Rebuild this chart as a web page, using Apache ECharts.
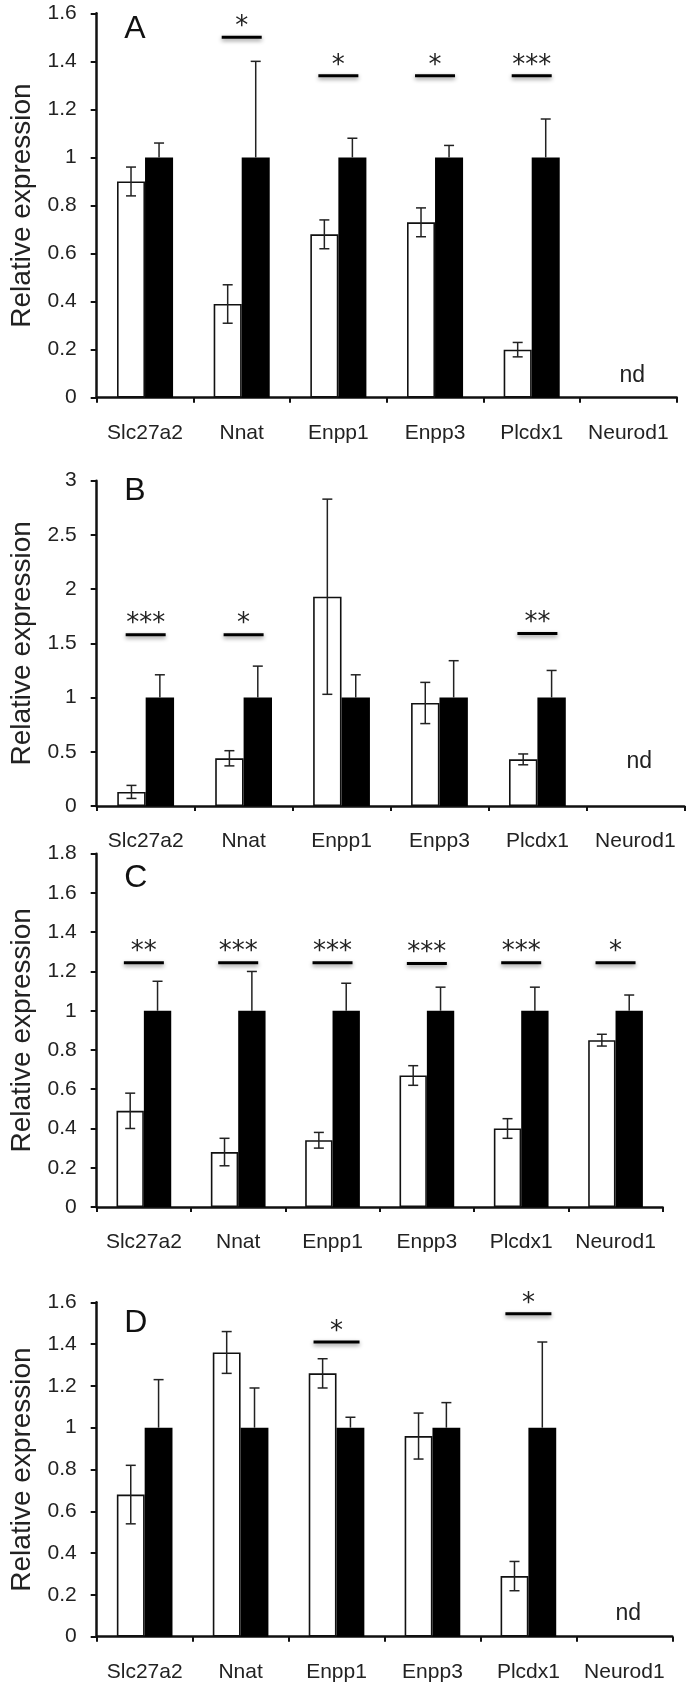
<!DOCTYPE html>
<html><head><meta charset="utf-8">
<script src="https://cdn.jsdelivr.net/npm/echarts@6/dist/echarts.min.js"></script>
<style>html,body{margin:0;padding:0;background:#fff;}#c{width:695px;height:1691px;}</style>
</head><body><div id="c"></div>
<script>
const categories = ['Slc27a2', 'Nnat', 'Enpp1', 'Enpp3', 'Plcdx1', 'Neurod1'];

// Panel A
const aTicks = [0, 0.2, 0.4, 0.6, 0.8, 1, 1.2, 1.4, 1.6];
const aWhite = [0.90, 0.39, 0.68, 0.73, 0.20, null];
const aWhiteErr = [0.06, 0.08, 0.06, 0.06, 0.03, null];
const aBlack = [1, 1, 1, 1, 1, null];
const aBlackErr = [0.06, 0.40, 0.08, 0.05, 0.16, null];
const aSig = [null, '*', '*', '*', '***', null];
const aSigLevel = [null, 1.50, 1.34, 1.34, 1.34, null];
const aNd = [null, null, null, null, null, 'nd'];
const aNdLevel = [null, null, null, null, null, 0.09];

// Panel B
const bTicks = [0, 0.5, 1, 1.5, 2, 2.5, 3];
const bWhite = [0.13, 0.44, 1.93, 0.95, 0.43, null];
const bWhiteErr = [0.06, 0.07, 0.90, 0.19, 0.05, null];
const bBlack = [1, 1, 1, 1, 1, null];
const bBlackErr = [0.21, 0.29, 0.21, 0.34, 0.25, null];
const bSig = ['***', '*', null, null, '**', null];
const bSigLevel = [1.58, 1.58, null, null, 1.59, null];
const bNd = [null, null, null, null, null, 'nd'];
const bNdLevel = [null, null, null, null, null, 0.41];

// Panel C
const cTicks = [0, 0.2, 0.4, 0.6, 0.8, 1, 1.2, 1.4, 1.6, 1.8];
const cWhite = [0.49, 0.28, 0.34, 0.67, 0.40, 0.85];
const cWhiteErr = [0.09, 0.07, 0.04, 0.05, 0.05, 0.03];
const cBlack = [1, 1, 1, 1, 1, 1];
const cBlackErr = [0.15, 0.20, 0.14, 0.12, 0.12, 0.08];
const cSig = ['**', '***', '***', '***', '***', '*'];
const cSigLevel = [1.245, 1.245, 1.245, 1.24, 1.245, 1.245];
const cNd = [null, null, null, null, null, null];
const cNdLevel = [null, null, null, null, null, null];

// Panel D
const dTicks = [0, 0.2, 0.4, 0.6, 0.8, 1, 1.2, 1.4, 1.6];
const dWhite = [0.68, 1.36, 1.26, 0.96, 0.29, null];
const dWhiteErr = [0.14, 0.10, 0.07, 0.11, 0.07, null];
const dBlack = [1, 1, 1, 1, 1, null];
const dBlackErr = [0.23, 0.19, 0.05, 0.12, 0.41, null];
const dSig = [null, null, '*', null, '*', null];
const dSigLevel = [null, null, 1.41, null, 1.545, null];
const dNd = [null, null, null, null, null, 'nd'];
const dNdLevel = [null, null, null, null, null, 0.11];

const FONT = '"Liberation Sans", Arial, Helvetica, sans-serif';
const BAR_FRAC = 0.29;

const panels = [
  {letter: 'A', ticks: aTicks, white: aWhite, whiteErr: aWhiteErr, black: aBlack, blackErr: aBlackErr,
   sig: aSig, sigLevel: aSigLevel, nd: aNd, ndLevel: aNdLevel,
   box: {left: 96.7, top: 13.3, width: 580, height: 384.4}, titleTop: 13.5, sigLen: 40},
  {letter: 'B', ticks: bTicks, white: bWhite, whiteErr: bWhiteErr, black: bBlack, blackErr: bBlackErr,
   sig: bSig, sigLevel: bSigLevel, nd: bNd, ndLevel: bNdLevel,
   box: {left: 96.7, top: 480.7, width: 587.6, height: 325.3}, titleTop: 475, sigLen: 40},
  {letter: 'C', ticks: cTicks, white: cWhite, whiteErr: cWhiteErr, black: cBlack, blackErr: cBlackErr,
   sig: cSig, sigLevel: cSigLevel, nd: cNd, ndLevel: cNdLevel,
   box: {left: 96.7, top: 853.7, width: 566, height: 353.3}, titleTop: 862, sigLen: 40},
  {letter: 'D', ticks: dTicks, white: dWhite, whiteErr: dWhiteErr, black: dBlack, blackErr: dBlackErr,
   sig: dSig, sigLevel: dSigLevel, nd: dNd, ndLevel: dNdLevel,
   box: {left: 96.7, top: 1302.3, width: 575.6, height: 334.4}, titleTop: 1307, sigLen: 46}
];

const grid = [], xAxis = [], yAxis = [], series = [], title = [];

panels.forEach(function (p, k) {
  grid.push({left: p.box.left, top: p.box.top, width: p.box.width, height: p.box.height, containLabel: false});
  title.push({text: p.letter, left: p.box.left + 27.5, top: p.titleTop, padding: 0,
    textStyle: {fontSize: 32, fontWeight: 'normal', color: '#111', fontFamily: FONT}});
  xAxis.push({
    gridIndex: k, type: 'category', data: categories,
    axisLine: {show: true, lineStyle: {color: '#111', width: 2.5}},
    axisTick: {show: true, length: 5, lineStyle: {color: '#111', width: 2}},
    axisLabel: {interval: 0, fontSize: 21, color: '#222', margin: 25, fontFamily: FONT},
    splitLine: {show: false}
  });
  yAxis.push({
    gridIndex: k, type: 'value',
    min: p.ticks[0], max: p.ticks[p.ticks.length - 1], interval: p.ticks[1] - p.ticks[0],
    axisLine: {show: true, lineStyle: {color: '#111', width: 2.5}},
    axisTick: {show: true, length: 6, lineStyle: {color: '#111', width: 2}},
    axisLabel: {fontSize: 21, color: '#222', margin: 20, fontFamily: FONT},
    splitLine: {show: false},
    name: 'Relative expression', nameLocation: 'middle', nameGap: 50,
    nameTextStyle: {fontSize: 28, color: '#222', fontFamily: FONT}
  });
  series.push({
    type: 'bar', xAxisIndex: k, yAxisIndex: k, data: p.white,
    barWidth: (BAR_FRAC * 100) + '%', barGap: '0%',
    itemStyle: {color: '#ffffff', borderColor: '#111', borderWidth: 1.6},
    silent: true, animation: false
  });
  series.push({
    type: 'bar', xAxisIndex: k, yAxisIndex: k, data: p.black,
    barWidth: (BAR_FRAC * 100) + '%', barGap: '0%',
    itemStyle: {color: '#000000'},
    silent: true, animation: false
  });
  // error bars (white: both directions; black: upper whisker only, lower part hidden in the bar)
  const errData = [];
  p.white.forEach(function (v, i) { if (v != null) errData.push([i, v, p.whiteErr[i], -1]); });
  p.black.forEach(function (v, i) { if (v != null) errData.push([i, v, p.blackErr[i], 1]); });
  series.push({
    type: 'custom', xAxisIndex: k, yAxisIndex: k, data: errData, z: 5, silent: true, animation: false,
    encode: {x: 0, y: 1},
    renderItem: function (params, api) {
      const i = api.value(0), v = api.value(1), e = api.value(2), side = api.value(3);
      const band = api.size([1, 0])[0];
      const bw = band * BAR_FRAC;
      const cx = api.coord([i, v])[0] + side * bw / 2;
      const yt = api.coord([i, v + e])[1];
      const yb = side < 0 ? api.coord([i, v - e])[1] : api.coord([i, v])[1];
      const st = {stroke: '#222', lineWidth: 1.5};
      const cap = 5;
      const children = [
        {type: 'line', shape: {x1: cx, y1: yt, x2: cx, y2: yb}, style: st},
        {type: 'line', shape: {x1: cx - cap, y1: yt, x2: cx + cap, y2: yt}, style: st}
      ];
      if (side < 0) children.push({type: 'line', shape: {x1: cx - cap, y1: yb, x2: cx + cap, y2: yb}, style: st});
      return {type: 'group', children: children};
    }
  });
  // significance
  const sigData = [], sigText = [];
  p.sig.forEach(function (s, i) { if (s) { sigData.push([i, p.sigLevel[i]]); sigText.push(s); } });
  series.push({
    type: 'custom', xAxisIndex: k, yAxisIndex: k, data: sigData, z: 6, silent: true, animation: false,
    encode: {x: 0, y: 1},
    renderItem: function (params, api) {
      const pt = api.coord([api.value(0), api.value(1)]);
      const L = p.sigLen;
      return {type: 'group', children: [
        {type: 'line', shape: {x1: pt[0] - L / 2, y1: pt[1], x2: pt[0] + L / 2, y2: pt[1]},
         style: {stroke: '#000', lineWidth: 3, shadowBlur: 4, shadowColor: 'rgba(0,0,0,0.45)', shadowOffsetY: 2}},
        {type: 'text', style: {text: sigText[params.dataIndex], x: pt[0], y: pt[1] - 10,
         align: 'center', verticalAlign: 'middle', fill: '#222',
         font: '26px "DejaVu Sans", sans-serif'}}
      ]};
    }
  });
  // nd labels
  const ndData = [], ndText = [];
  p.nd.forEach(function (s, i) { if (s) { ndData.push([i, p.ndLevel[i]]); ndText.push(s); } });
  if (ndData.length) {
    series.push({
      type: 'custom', xAxisIndex: k, yAxisIndex: k, data: ndData, z: 6, silent: true, animation: false,
      encode: {x: 0, y: 1},
      renderItem: function (params, api) {
        const pt = api.coord([api.value(0), api.value(1)]);
        return {type: 'text', style: {text: ndText[params.dataIndex], x: pt[0] + 4, y: pt[1],
          align: 'center', verticalAlign: 'middle', fill: '#222',
          font: '23px "Liberation Sans", Arial, sans-serif'}};
      }
    });
  }
});

const chart = echarts.init(document.getElementById('c'), null, {renderer: 'canvas'});
chart.setOption({animation: false, backgroundColor: '#ffffff', title: title, grid: grid, xAxis: xAxis, yAxis: yAxis, series: series});
</script></body></html>
